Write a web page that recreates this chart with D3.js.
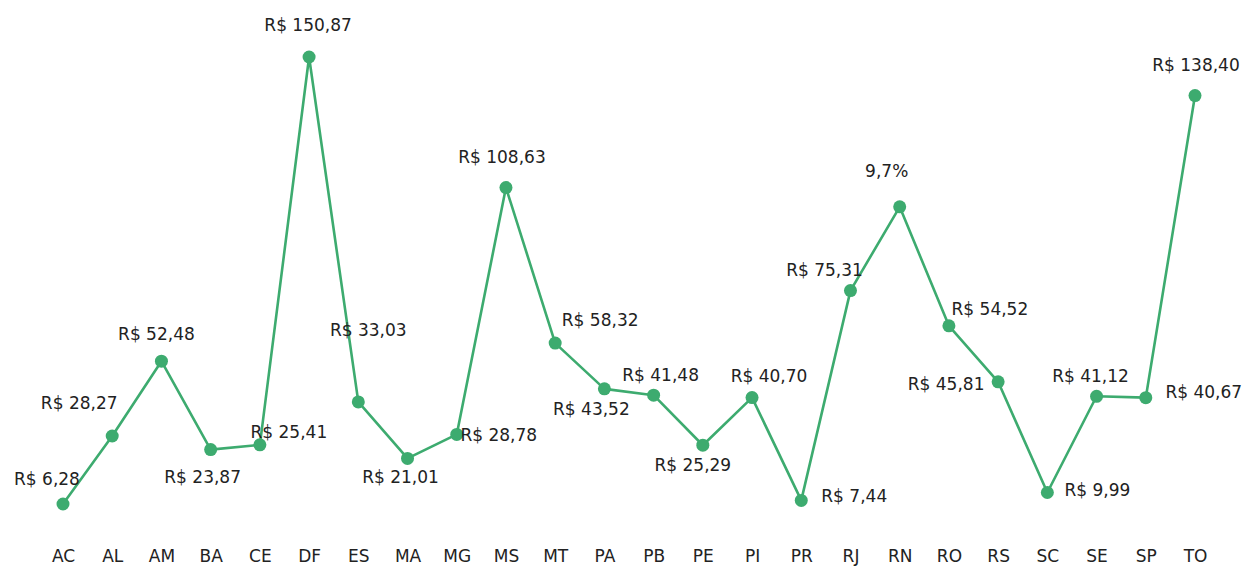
<!DOCTYPE html>
<html>
<head>
<meta charset="utf-8">
<script src="https://cdn.jsdelivr.net/npm/d3@7"></script>
<style>
  html, body { margin: 0; padding: 0; background: #fff; }
  svg { display: block; }
  text { font-family: "DejaVu Sans", sans-serif; fill: #222; }
</style>
</head>
<body>
<svg></svg>
<script>
// states (x categories)
const states = ['AC', 'AL', 'AM', 'BA', 'CE', 'DF', 'ES', 'MA', 'MG', 'MS', 'MT', 'PA',
  'PB', 'PE', 'PI', 'PR', 'RJ', 'RN', 'RO', 'RS', 'SC', 'SE', 'SP', 'TO'];

// plotted values (ES, RN, RO read from the point heights)
const values = [6.28, 28.27, 52.48, 23.87, 25.41, 150.87, 39.3, 21.01, 28.78, 108.63, 58.32, 43.52,
  41.48, 25.29, 40.70, 7.44, 75.31, 102.4, 63.9, 45.81, 9.99, 41.12, 40.67, 138.40];

// data labels as printed
const labels = ['R$ 6,28', 'R$ 28,27', 'R$ 52,48', 'R$ 23,87', 'R$ 25,41', 'R$ 150,87', 'R$ 33,03',
  'R$ 21,01', 'R$ 28,78', 'R$ 108,63', 'R$ 58,32', 'R$ 43,52', 'R$ 41,48', 'R$ 25,29', 'R$ 40,70',
  'R$ 7,44', 'R$ 75,31', '9,7%', 'R$ 54,52', 'R$ 45,81', 'R$ 9,99', 'R$ 41,12', 'R$ 40,67', 'R$ 138,40'];

// label placement relative to its point [dx, dy]
const labelOffsets = [[-16, -19], [-33, -27], [-5, -21], [-8, 33], [29, -7], [-1, -26], [10, -66],
  [-7, 25], [42, 7], [-4, -25], [45, -17], [-13, 26], [7, -14], [-10, 26], [17, -16], [53, 2],
  [-26, -15], [-13, -30], [41, -11], [-52, 8], [50, 3], [-6, -14], [58, 0], [1, -25]];

const width = 1247;
const height = 567;
const green = '#3dab6f';

const svg = d3.select('svg')
    .attr('width', width)
    .attr('height', height);

const x = d3.scalePoint()
  .domain(states)
  .range([63, 1195]);

const y = d3.scaleLinear()
  .domain([0, 150.87])
  .range([523.4, 57]);

const data = states.map((s, i) => ({ state: s, value: values[i], label: labels[i], off: labelOffsets[i] }));

// x axis, labels only
const xAxis = svg.append('g')
    .attr('transform', 'translate(0,538)')
    .call(d3.axisBottom(x).tickSize(0).tickPadding(12));
xAxis.select('.domain').remove();
xAxis.selectAll('text')
    .style('font-family', '"DejaVu Sans", sans-serif')
    .style('font-size', '17px')
    .attr('fill', '#222');

const line = d3.line()
  .x(d => x(d.state))
  .y(d => y(d.value));

svg.append('path')
    .datum(data)
    .attr('d', line)
    .attr('fill', 'none')
    .attr('stroke', green)
    .attr('stroke-width', 2.6)
    .attr('stroke-linejoin', 'round');

svg.selectAll('circle')
  .data(data)
  .enter().append('circle')
    .attr('cx', d => x(d.state))
    .attr('cy', d => y(d.value))
    .attr('r', 6.5)
    .attr('fill', green);

svg.selectAll('text.lbl')
  .data(data)
  .enter().append('text')
    .attr('class', 'lbl')
    .attr('x', d => x(d.state) + d.off[0])
    .attr('y', d => y(d.value) + d.off[1])
    .attr('text-anchor', 'middle')
    .style('font-size', '17px')
    .text(d => d.label);
</script>
</body>
</html>
